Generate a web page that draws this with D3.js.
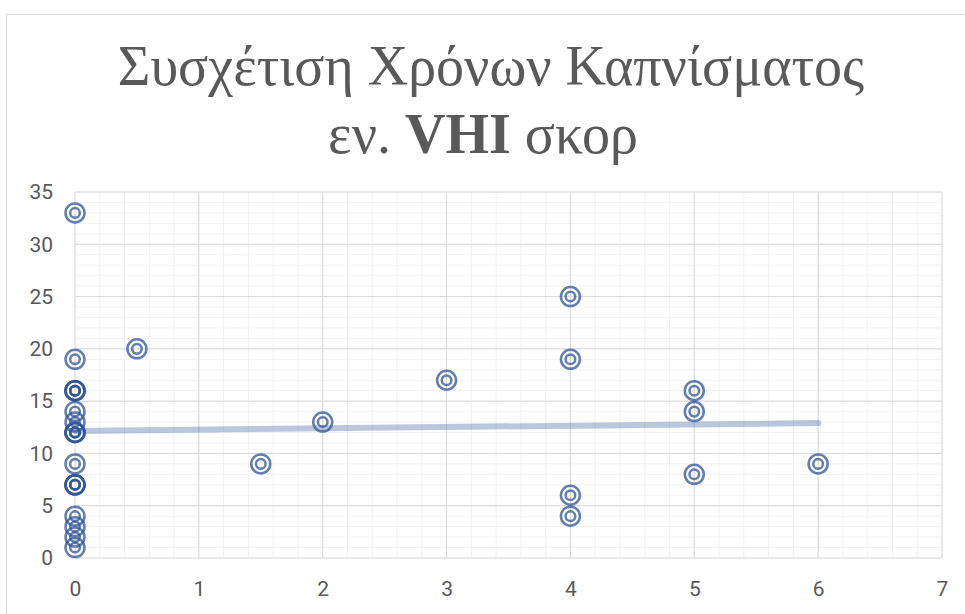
<!DOCTYPE html>
<html><head><meta charset="utf-8">
<script src="https://cdn.jsdelivr.net/npm/d3@7/dist/d3.min.js"></script>
<style>body{margin:0;background:#fff}svg{display:block}</style>
</head><body>
<svg id="c" width="965" height="614"></svg>
<script>
// Data
const xValues = [0,0,0,0,0,0,0,0,0,0,0,0,0,0,0,0,0,0, 0.5, 1.5, 2, 3, 4,4,4,4, 5,5,5, 6];
const yValues = [33,19,16,16,16,14,13,12,12,12,9,7,7,7,4,3,2,1, 20, 9, 13, 17, 25,19,6,4, 16,14,8, 9];
const trendX = [0, 6];
const trendY = [12.15, 12.9];
const xTicks = [0,1,2,3,4,5,6,7];
const yTicks = [0,5,10,15,20,25,30,35];
const titleLine1 = "Συσχέτιση Χρόνων Καπνίσματος";
const titleLine2 = ["εν. ", "VHI", " σκορ"];

const svg = d3.select("#c");
const x = d3.scaleLinear().domain([0,7]).range([75,942]);
const y = d3.scaleLinear().domain([0,35]).range([558,192]);

// chart border
svg.append("rect").attr("x",6.5).attr("y",14.5).attr("width",1200).attr("height",1200)
  .attr("fill","#fff").attr("stroke","#d9d9d9").attr("stroke-width",1);

// minor grid
const g = svg.append("g");
d3.range(0,7.0001,0.2).forEach(v=>{
  g.append("line").attr("x1",x(v)).attr("x2",x(v)).attr("y1",y(0)).attr("y2",y(35))
   .attr("stroke","#f2f2f2").attr("stroke-width",1);
});
d3.range(0,35.0001,1).forEach(v=>{
  g.append("line").attr("x1",x(0)).attr("x2",x(7)).attr("y1",y(v)).attr("y2",y(v))
   .attr("stroke","#f2f2f2").attr("stroke-width",1);
});
// major grid
xTicks.forEach(v=>{
  g.append("line").attr("x1",x(v)).attr("x2",x(v)).attr("y1",y(0)).attr("y2",y(35))
   .attr("stroke","#d9d9d9").attr("stroke-width",1);
});
yTicks.forEach(v=>{
  g.append("line").attr("x1",x(0)).attr("x2",x(7)).attr("y1",y(v)).attr("y2",y(v))
   .attr("stroke","#d9d9d9").attr("stroke-width",1);
});

// axes labels
const xa = svg.append("g").attr("transform",`translate(0,${y(0)})`)
  .call(d3.axisBottom(x).tickValues(xTicks).tickSize(0).tickPadding(23).tickFormat(d3.format("d")));
xa.select(".domain").remove();
xa.selectAll("text").attr("font-family","Roboto, sans-serif").attr("font-size",21).attr("fill","#595959");

const ya = svg.append("g").attr("transform",`translate(${x(0)},0)`)
  .call(d3.axisLeft(y).tickValues(yTicks).tickSize(0).tickPadding(22).tickFormat(d3.format("d")));
ya.select(".domain").remove();
ya.selectAll("text").attr("font-family","Roboto, sans-serif").attr("font-size",21).attr("fill","#595959");

// trendline
svg.append("line").attr("x1",x(trendX[0])).attr("y1",y(trendY[0])).attr("x2",x(trendX[1])).attr("y2",y(trendY[1]))
  .attr("stroke","#2f5597").attr("stroke-opacity",0.33).attr("stroke-width",6).attr("stroke-linecap","round");

// markers
const pts = svg.append("g");
xValues.forEach((xv,i)=>{
  const m = pts.append("g").attr("transform",`translate(${x(xv)},${y(yValues[i])})`).attr("opacity",0.75);
  m.append("circle").attr("r",9.5).attr("fill","none").attr("stroke","#2f5597").attr("stroke-width",2.5);
  m.append("circle").attr("r",4.8).attr("fill","none").attr("stroke","#2f5597").attr("stroke-width",2.5);
});

// title
const tf = "'Liberation Serif', 'DejaVu Serif', serif";
svg.append("text").attr("x",491).attr("y",85).attr("text-anchor","middle")
  .attr("font-family",tf).attr("font-size",56).attr("fill","#595959").text(titleLine1);
const t2 = svg.append("text").attr("x",483).attr("y",153).attr("text-anchor","middle")
  .attr("font-family",tf).attr("font-size",56).attr("fill","#595959");
titleLine2.forEach((s,i)=>{
  t2.append("tspan").attr("font-weight", i===1 ? "bold" : "normal").text(s);
});
</script>
</body></html>
